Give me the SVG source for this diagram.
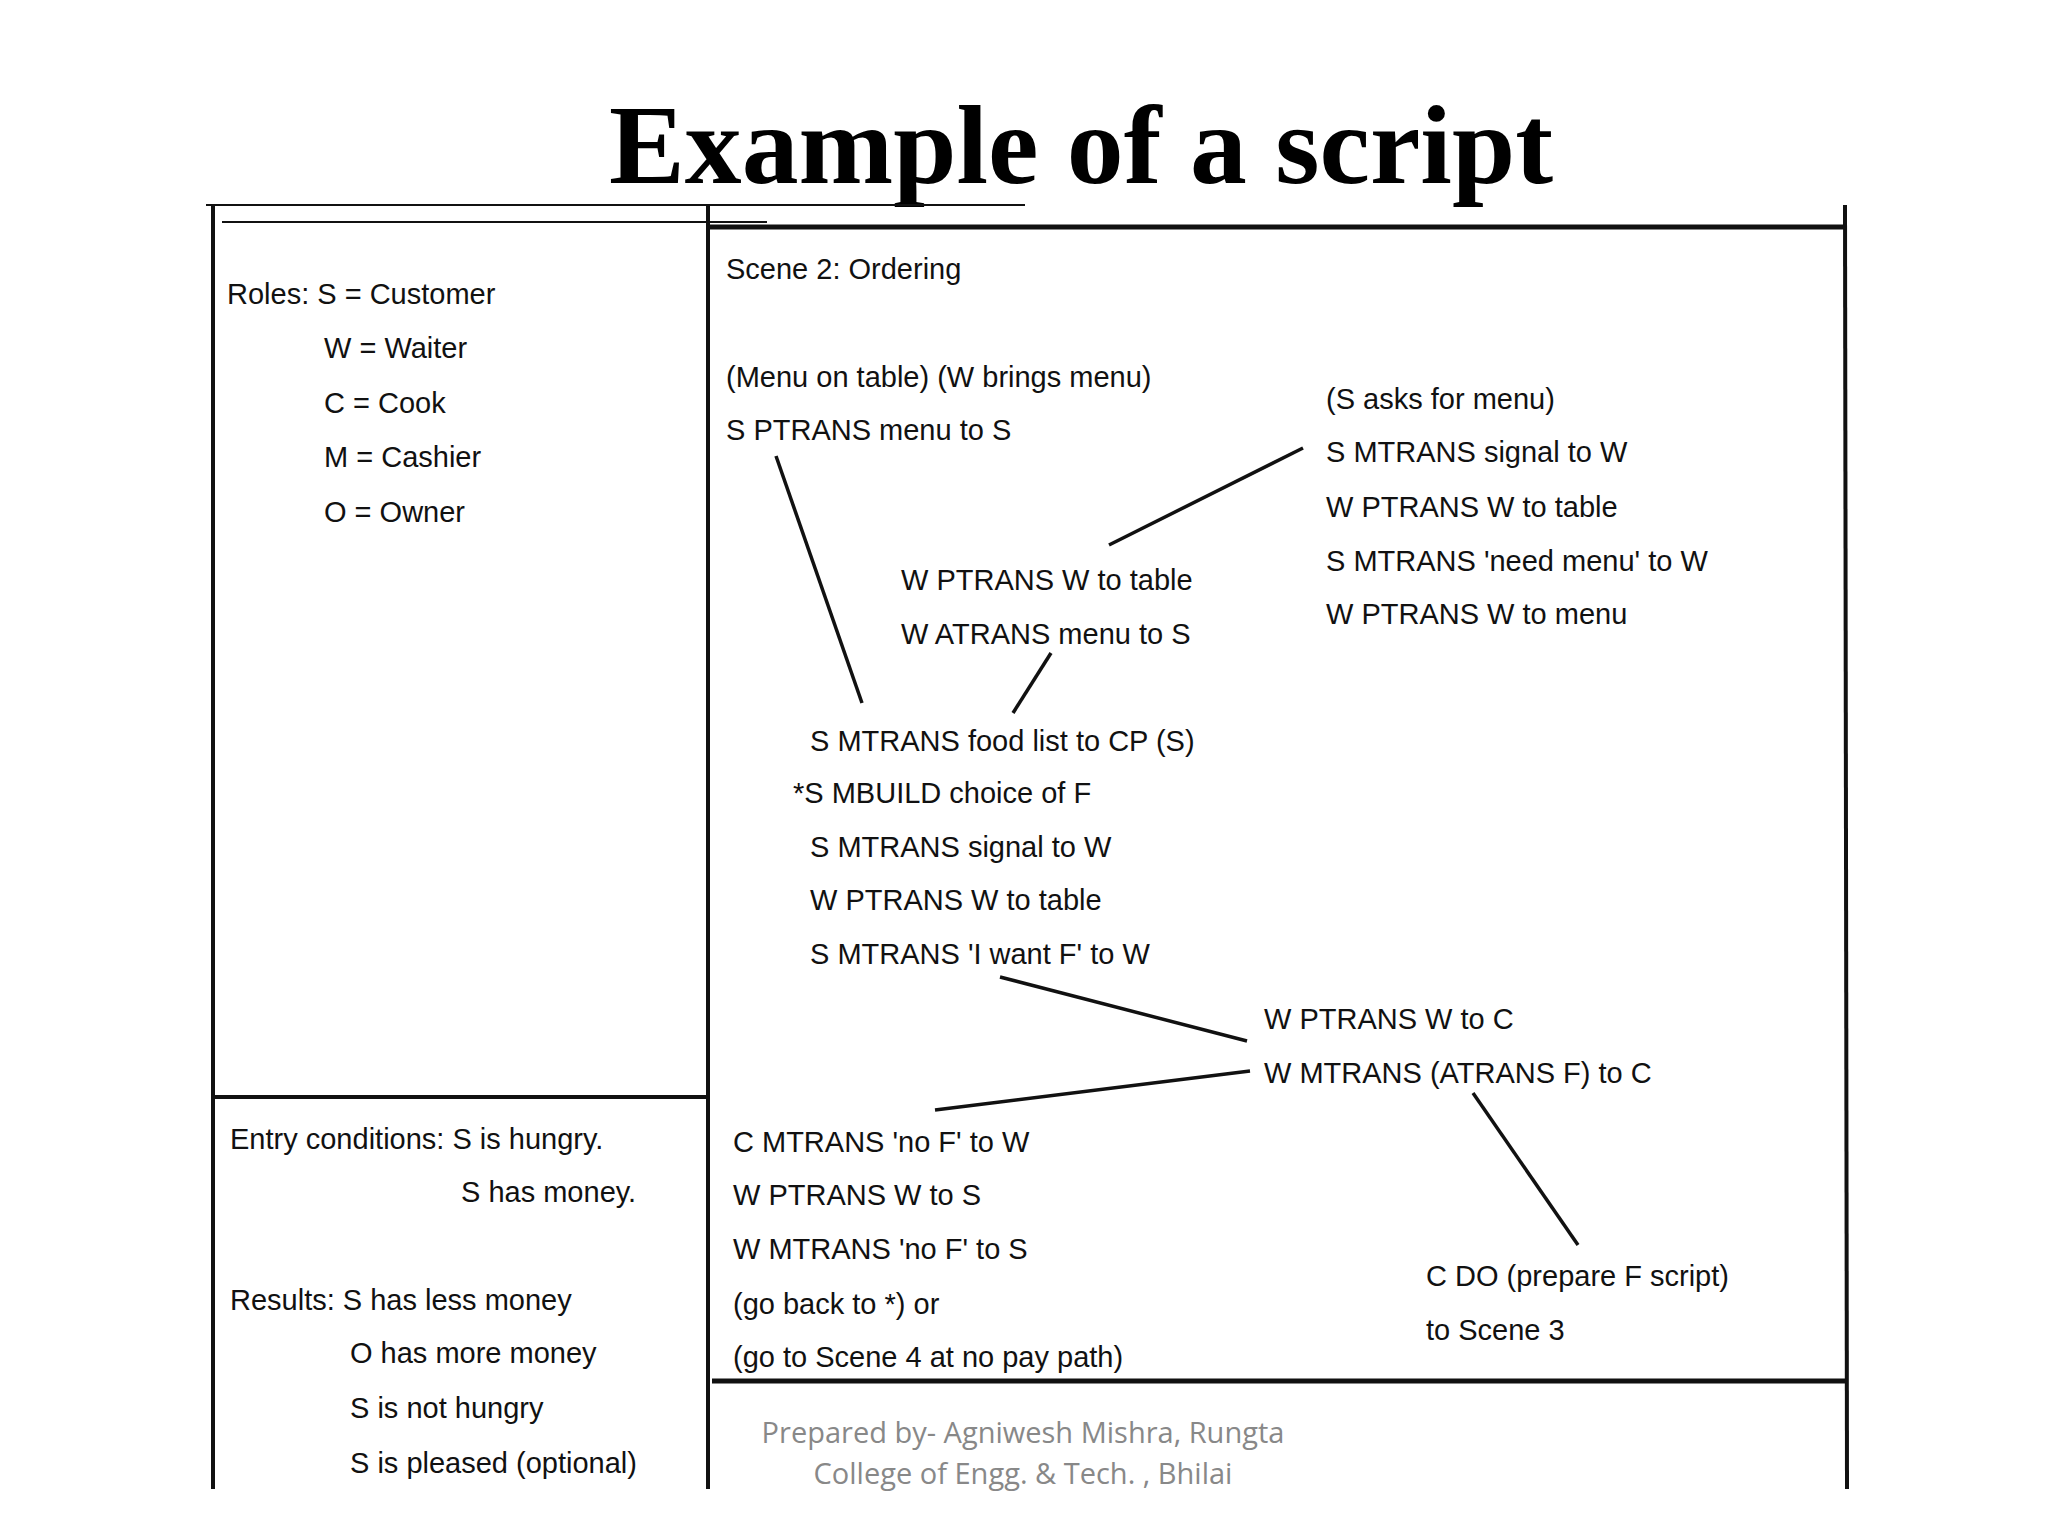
<svg xmlns="http://www.w3.org/2000/svg" width="2048" height="1536" viewBox="0 0 2048 1536">
<style>
.t{font-family:"Liberation Sans",Arial,sans-serif;font-size:29px;fill:#111}
.f{font-family:"Open Sans","Noto Sans",sans-serif;font-size:29px;fill:#888;text-anchor:middle}
.b{stroke:#111;fill:none}
</style>
<rect width="2048" height="1536" fill="#fff"/>
<text x="1081" y="183" text-anchor="middle" style="font-family:'Liberation Serif','Times New Roman',serif;font-weight:bold;font-size:112px" fill="#000" textLength="944" lengthAdjust="spacingAndGlyphs">Example of a script</text>
<g id="frame" class="b">
<line x1="206" y1="205" x2="1025" y2="205" stroke-width="2"/>
<line x1="222" y1="222" x2="767" y2="222" stroke-width="2"/>
<line x1="213" y1="205" x2="213" y2="1489" stroke-width="4"/>
<line x1="708" y1="205" x2="708" y2="1489" stroke-width="4"/>
<line x1="1845" y1="205" x2="1847" y2="1489" stroke-width="4"/>
<line x1="708" y1="227" x2="1845" y2="227" stroke-width="5"/>
<line x1="213" y1="1097" x2="708" y2="1097" stroke-width="4"/>
<line x1="712" y1="1381" x2="1848" y2="1381" stroke-width="5"/>
</g>
<g id="roles" class="t">
<text x="227" y="304">Roles:  S = Customer</text>
<text x="324" y="358">W = Waiter</text>
<text x="324" y="413">C = Cook</text>
<text x="324" y="467">M = Cashier</text>
<text x="324" y="522">O = Owner</text>
</g>
<g id="conditions" class="t">
<text x="230" y="1149">Entry conditions:  S is hungry.</text>
<text x="461" y="1202">S has money.</text>
<text x="230" y="1310">Results:  S has less money</text>
<text x="350" y="1363">O has more money</text>
<text x="350" y="1418">S is not hungry</text>
<text x="350" y="1473">S is pleased (optional)</text>
</g>
<g id="scene" class="t">
<text x="726" y="279">Scene 2:  Ordering</text>
<text x="726" y="387">(Menu on table)  (W brings menu)</text>
<text x="726" y="440">S PTRANS menu to S</text>
<text x="1326" y="409">(S asks for menu)</text>
<text x="1326" y="462">S MTRANS signal to W</text>
<text x="1326" y="517">W PTRANS W to table</text>
<text x="1326" y="571">S MTRANS 'need menu' to W</text>
<text x="1326" y="624">W PTRANS W to menu</text>
<text x="901" y="590">W PTRANS W to table</text>
<text x="901" y="644">W ATRANS menu to S</text>
<text x="810" y="751">S MTRANS food list to CP (S)</text>
<text x="793" y="803">*S MBUILD choice of F</text>
<text x="810" y="857">S MTRANS signal to W</text>
<text x="810" y="910">W PTRANS W to table</text>
<text x="810" y="964">S MTRANS 'I want F' to W</text>
<text x="1264" y="1029">W PTRANS W to C</text>
<text x="1264" y="1083">W MTRANS (ATRANS F) to C</text>
<text x="733" y="1152">C MTRANS 'no F' to W</text>
<text x="733" y="1205">W PTRANS W to S</text>
<text x="733" y="1259">W MTRANS 'no F' to S</text>
<text x="733" y="1314">(go back to *) or</text>
<text x="733" y="1367">(go to Scene 4 at no pay path)</text>
<text x="1426" y="1286">C DO (prepare F script)</text>
<text x="1426" y="1340">to Scene 3</text>
</g>
<g id="connectors" class="b" stroke-width="3.5">
<line x1="776" y1="456" x2="862" y2="703"/>
<line x1="1109" y1="545" x2="1303" y2="448"/>
<line x1="1051" y1="653" x2="1013" y2="713"/>
<line x1="1000" y1="977" x2="1247" y2="1041"/>
<line x1="935" y1="1110" x2="1250" y2="1071"/>
<line x1="1473" y1="1093" x2="1578" y2="1245"/>
</g>
<g id="footer" class="f">
<text x="1023" y="1443">Prepared by- Agniwesh Mishra, Rungta</text>
<text x="1023" y="1484">College of Engg. &amp; Tech. , Bhilai</text>
</g>
</svg>
